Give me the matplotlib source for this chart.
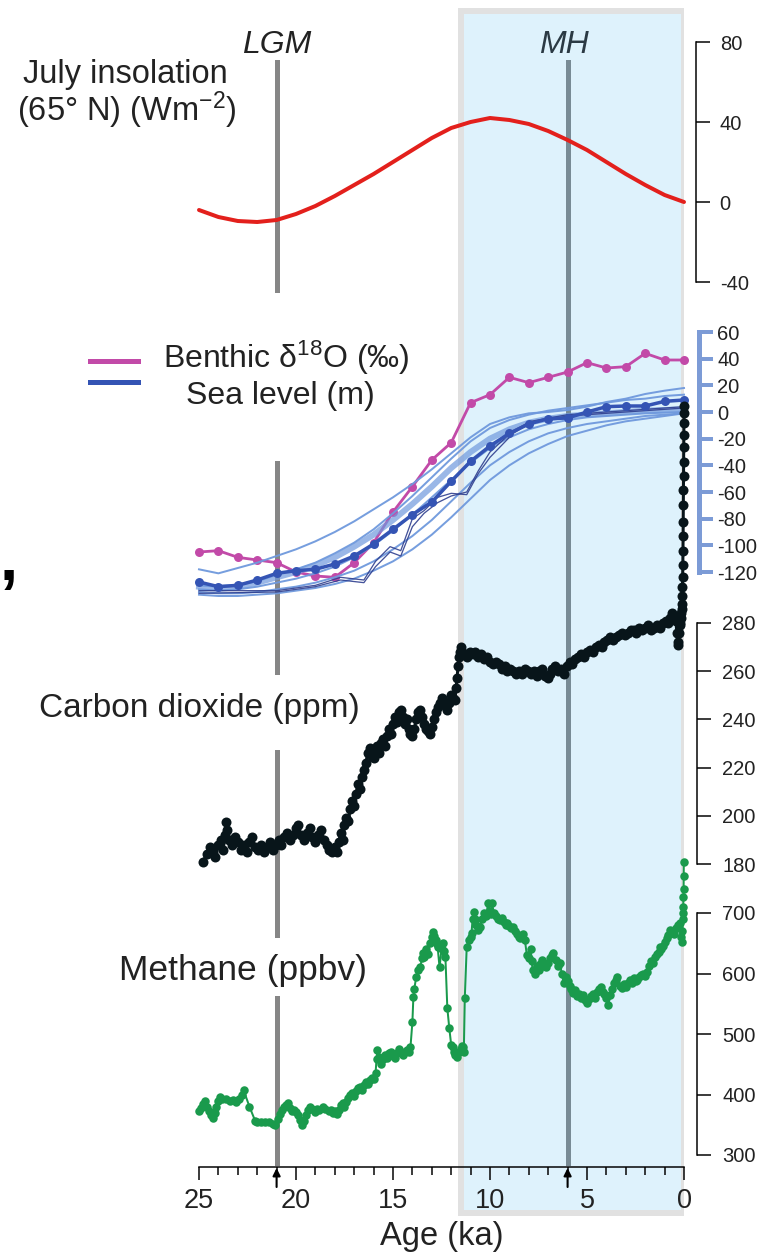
import matplotlib
matplotlib.use("Agg")
import matplotlib.pyplot as plt
from matplotlib.lines import Line2D

plt.rcParams['font.family'] = ['Liberation Sans', 'DejaVu Sans']
plt.rcParams['mathtext.default'] = 'regular'
plt.rcParams['axes.unicode_minus'] = False

# ---------------- data ----------------
LGM_AGE = 21
MH_AGE = 6
BAND = (11.5, 0.0)

INS_AGE = [25, 24, 23, 22, 21, 20, 19, 18, 17, 16, 15, 14, 13, 12, 11, 10, 9, 8, 7, 6, 5, 4, 3, 2, 1, 0]
INS_VAL = [-4, -7.5, -9.5, -10, -9, -6, -2, 3, 8.5, 14, 20, 26, 32, 37, 40, 42, 41, 39, 35.5, 31, 26, 20, 14, 8.5, 3.5, 0]

SL_AGE = [25, 24, 23, 22, 21, 20, 19, 18, 17, 16, 15, 14, 13, 12, 11, 10, 9, 8, 7, 6, 5, 4, 3, 2, 1, 0]
BENTHIC = [-105, -104, -109, -111, -113, -120, -123, -124, -113, -98, -75, -56, -36, -23, 7, 13, 26, 22, 26, 30, 37, 33, 34, 44, 39, 39]
SEA_LEVEL = [-127.5, -131, -130, -126, -121, -119, -118, -114, -108, -99, -88, -77, -67.5, -52, -37, -25.5,
             -16, -9, -5, -4.5, 0, 4, 4.5, 4.5, 8, 9]
MODEL_1 = [-118, -121, -117, -113, -108, -103, -97, -90, -82, -73, -64, -54, -43, -31, -19, -9, -4, -1, 0, 1.5, 4, 7.5, 10, 13.5, 16, 18]
MODEL_2 = [-130, -131, -130, -127, -122, -118, -113, -106, -98, -88, -76, -63, -49, -35, -22, -12, -6, -2, 1, 3, 5, 7, 9, 10, 12, 13]
MODEL_3 = [-131, -132, -131, -128, -124, -120, -115, -109, -101, -92, -81, -69, -56, -42, -30, -20, -13, -8, -5, -3, -2, -1, 0, 1, 1.5, 2]
MODEL_4 = [-133, -134, -133, -131, -128, -125, -121, -116, -109, -100, -89, -77, -64, -51, -38, -27, -19, -13, -9, -6, -4, -3, -2, -1, -0.5, 0]
MODEL_5 = [-135, -136, -136, -135, -133, -131, -128, -124, -119, -112, -103, -93, -81, -67, -53, -40, -30, -22, -16, -12, -9, -7, -5, -3, -2, -1]
MODEL_6 = [-137, -138, -138, -137, -136, -134, -132, -129, -125, -119, -112, -103, -92, -79, -65, -51, -40, -31, -24, -18, -14, -10, -7, -5, -3, -1]

RSL_AGE = [25, 21, 19, 17.7, 16.5, 15.9, 15.15, 14.6, 14.0, 13.4, 12.7, 12.0, 11.2, 10.6, 10.0, 8.8, 7.9, 6, 4, 2, 0]
RSL_1 = [-134, -134, -130, -124, -126, -112, -101, -104, -80, -74, -64, -61, -62, -46, -34, -16, -8, -3, -1, 1, 3]
RSL_2 = [-136, -135, -131, -126, -128, -116, -105, -108, -86, -76, -68, -63, -60, -44, -30, -14, -7, -2, 0, 2, 4]

CO2_AGE = [24.8, 24.6, 24.45, 24.3, 24.15, 24.0, 23.85, 23.75, 23.65, 23.6, 23.55, 23.45, 23.3, 23.15, 23.0,
           22.85, 22.7, 22.55, 22.4, 22.25, 22.1, 21.95, 21.8, 21.65, 21.5, 21.35, 21.2, 21.05, 20.9, 20.75,
           20.6, 20.45, 20.3, 20.15, 20.0, 19.9, 19.75, 19.6, 19.45, 19.3, 19.15, 19.0, 18.85, 18.7, 18.55,
           18.4, 18.3, 18.15, 18.0, 17.9, 17.8, 17.7, 17.6, 17.5, 17.4, 17.3, 17.2, 17.1, 17.0, 16.9, 16.8,
           16.7, 16.6, 16.5, 16.4, 16.3, 16.2, 16.1, 16.0, 15.9, 15.8, 15.7, 15.6, 15.5, 15.4, 15.3, 15.2,
           15.1, 15.0, 14.9, 14.8, 14.7, 14.6, 14.5, 14.4, 14.3, 14.2, 14.1, 14.0, 13.9, 13.8, 13.7, 13.6,
           13.5, 13.4, 13.3, 13.2, 13.1, 13.0, 12.9, 12.8, 12.7, 12.6, 12.5, 12.4, 12.3, 12.2, 12.1, 12.0,
           11.9, 11.8, 11.75, 11.7, 11.65, 11.6, 11.55, 11.5, 11.45, 11.35, 11.2, 11.05, 10.9, 10.75, 10.6,
           10.45, 10.3, 10.15, 10.0, 9.85, 9.7, 9.55, 9.4, 9.25, 9.1, 8.95, 8.8, 8.65, 8.5, 8.35, 8.2, 8.05,
           7.9, 7.75, 7.6, 7.45, 7.3, 7.15, 7.0, 6.9, 6.8, 6.65, 6.5, 6.35, 6.2, 6.05, 5.9, 5.75, 5.6, 5.45,
           5.3, 5.15, 5.0, 4.85, 4.7, 4.55, 4.4, 4.25, 4.1, 3.95, 3.8, 3.65, 3.5, 3.35, 3.2, 3.05, 2.9, 2.75,
           2.6, 2.45, 2.3, 2.15, 2.0, 1.85, 1.7, 1.55, 1.4, 1.25, 1.1, 0.95, 0.8, 0.7, 0.6, 0.5, 0.42, 0.37,
           0.33, 0.3, 0.27, 0.23, 0.2, 0.17, 0.14, 0.12, 0.1, 0.09, 0.08, 0.07, 0.06, 0.05, 0.045, 0.04,
           0.035, 0.03, 0.025, 0.02, 0.015, 0.01, 0.006, 0.003, 0.0]
CO2_PPM = [181, 184, 187, 185, 183, 188, 190, 186, 192, 197.5, 194, 190, 188, 191, 189,
           186, 188, 185, 189, 191, 187, 186, 188, 185, 187, 189, 186, 188, 190, 188,
           191, 193, 190, 192, 195, 196, 192, 190, 193, 195, 191, 189, 192, 194, 190,
           188, 186, 185, 187, 185, 189, 193, 190, 196, 199, 198, 203, 206, 204, 209, 213,
           211, 216, 219, 222, 226, 228, 225, 224, 227, 229, 226, 230, 232, 229, 233, 236,
           234, 238, 241, 239, 243, 244, 241, 238, 240, 236, 234, 233, 236, 240, 243, 244,
           241, 238, 236, 235, 234, 237, 240, 243, 245, 247, 249, 248, 246, 244, 247, 250,
           249, 248, 253, 257, 262, 266, 268, 270, 268, 267, 266, 268, 267, 268, 266,
           267, 265, 266, 264, 263, 264, 263, 261, 262, 260, 261, 260, 259, 260, 259, 261, 260,
           259, 260, 258, 260, 261, 258, 257, 259, 261, 262, 260, 261, 259, 262, 264, 263, 265, 266,
           267, 266, 268, 269, 268, 270, 271, 270, 272, 273, 274, 273, 274, 275, 276, 275, 276, 277,
           277, 276, 278, 277, 278, 279, 277, 278, 279, 278, 280, 281, 280, 282, 284, 283, 281, 276,
           272, 271, 276, 279, 280, 282, 284, 286, 288, 291, 295, 299, 304, 310, 316, 322,
           329, 335, 341, 347, 353, 358, 363, 367, 370]

CH4_AGE = [25.0, 24.9, 24.8, 24.7, 24.6, 24.5, 24.4, 24.3, 24.2, 24.1, 24.0, 23.9, 23.8, 23.6, 23.4, 23.25,
           23.1, 22.95, 22.8, 22.7, 22.4, 22.1, 22.0, 21.8, 21.6, 21.4, 21.2, 21.1, 20.95, 20.8, 20.7, 20.6,
           20.5, 20.4, 20.3, 20.2, 20.1, 20.0, 19.9, 19.8, 19.7, 19.6, 19.5, 19.4, 19.3, 19.2, 19.0, 18.9,
           18.8, 18.6, 18.5, 18.3, 18.2, 18.1, 18.0, 17.9, 17.8, 17.7, 17.6, 17.5, 17.4, 17.3, 17.2, 17.1,
           17.0, 16.9, 16.8, 16.7, 16.6, 16.5, 16.4, 16.3, 16.2, 16.1, 16.0, 15.9, 15.85, 15.8, 15.7, 15.6,
           15.5, 15.4, 15.3, 15.2, 15.1, 15.0, 14.9, 14.8, 14.7, 14.6, 14.5, 14.4, 14.3, 14.2, 14.1, 14.0,
           13.95, 13.9, 13.8, 13.7, 13.6, 13.5, 13.45, 13.4, 13.3, 13.2, 13.1, 13.0, 12.95, 12.9, 12.8,
           12.75, 12.7, 12.6, 12.5, 12.4, 12.35, 12.3, 12.2, 12.1, 12.0, 11.9, 11.85, 11.8, 11.7, 11.6, 11.5,
           11.45, 11.4, 11.35, 11.3, 11.2, 11.1, 11.0, 10.95, 10.9, 10.8, 10.75, 10.7, 10.6, 10.5, 10.4,
           10.3, 10.2, 10.1, 10.0, 9.95, 9.9, 9.8, 9.7, 9.6, 9.5, 9.4, 9.3, 9.2, 9.1, 9.0, 8.9, 8.8, 8.7,
           8.6, 8.5, 8.45, 8.4, 8.3, 8.2, 8.1, 8.0, 7.9, 7.85, 7.8, 7.7, 7.6, 7.5, 7.4, 7.3, 7.2, 7.1, 7.0,
           6.9, 6.8, 6.75, 6.6, 6.5, 6.4, 6.3, 6.2, 6.1, 6.0, 5.9, 5.8, 5.7, 5.6, 5.5, 5.4, 5.3, 5.2, 5.1,
           5.0, 4.9, 4.8, 4.7, 4.6, 4.5, 4.4, 4.3, 4.2, 4.1, 4.0, 3.9, 3.8, 3.7, 3.6, 3.5, 3.45, 3.3, 3.2,
           3.1, 3.0, 2.9, 2.8, 2.7, 2.6, 2.5, 2.4, 2.3, 2.2, 2.1, 2.0, 1.9, 1.8, 1.7, 1.6, 1.5, 1.4, 1.3,
           1.25, 1.2, 1.1, 1.0, 0.9, 0.8, 0.7, 0.6, 0.5, 0.4, 0.3, 0.2, 0.15, 0.1, 0.08, 0.06, 0.05, 0.04,
           0.03, 0.02, 0.015, 0.01]
CH4_PPB = [372, 378, 385, 389, 380, 372, 366, 361, 370, 380, 390, 396, 393, 392, 390, 391,
           388, 392, 400, 407, 380, 356, 354, 355, 354, 355, 352, 350, 360, 368, 374, 380,
           383, 386, 378, 372, 375, 371, 366, 358, 350, 356, 366, 374, 379, 376, 371, 376,
           374, 379, 376, 372, 375, 369, 372, 368, 375, 382, 386, 380, 388, 395, 400, 402,
           398, 406, 410, 412, 408, 415, 420, 418, 424, 428, 425, 435, 458, 474, 462, 450,
           458, 465, 460, 468, 470, 463, 460, 468, 476, 470, 466, 470, 474, 470, 478, 520,
           561, 575, 595, 605, 611, 625, 634, 628, 640, 632, 650, 660, 669, 662, 655,
           648, 644, 610, 640, 650, 638, 628, 543, 510, 482, 479, 470, 465, 462, 470, 475,
           480, 479, 470, 559, 644, 655, 660, 667, 690, 701, 690, 680, 672, 677, 690,
           700, 695, 716, 704, 698, 716, 700, 695, 690, 688, 692, 685, 680, 684, 678, 675, 677, 670,
           665, 660, 659, 662, 665, 655, 630, 625, 640, 620, 605, 600, 612, 605, 615, 622, 612, 610, 618,
           625, 630, 634, 622, 612, 617, 600, 584, 595, 588, 580, 575, 568, 572, 562, 566, 560, 565, 556,
           551, 558, 562, 566, 560, 570, 574, 578, 570, 566, 560, 548, 565, 575, 585, 590, 594, 580, 576,
           582, 578, 585, 590, 584, 592, 588, 589, 594, 598, 600, 596, 603, 612, 620, 618, 628, 632, 636,
           644, 640, 645, 652, 658, 664, 672, 668, 665, 676, 680, 683, 660, 652, 670, 690, 700, 710,
           726, 740, 761, 784]

INS_TICKS = [-40, 0, 40, 80]
SL_TICKS = [-120, -100, -80, -60, -40, -20, 0, 20, 40, 60]
CO2_TICKS = [180, 200, 220, 240, 260, 280]
CH4_TICKS = [300, 400, 500, 600, 700]
AGE_TICKS = [25, 20, 15, 10, 5, 0]
AGE_LABELS = ['25', '20', '15', '10', '5', '0']

# ---------------- layout helpers ----------------
W, H = 759, 1258
X0, X1 = 199, 684
PT = 0.72  # points per pixel at 100 dpi
TXT = '#222222'

fig = plt.figure(figsize=(W / 100, H / 100), dpi=100)


def fx(p):
    return p / W


def fy(p):
    return 1 - p / H


# background axes: shaded Holocene band and the LGM / MH markers
axb = fig.add_axes([fx(X0), 0, fx(X1) - fx(X0), 1])
axb.set_xlim(25, 0)
axb.set_ylim(0, 1)
axb.axis('off')
axb.axvspan(BAND[0], BAND[1], ymin=fy(1213), ymax=fy(11), facecolor='#def2fc',
            edgecolor='#e1e1e1', lw=6 * PT, zorder=0)
for top, bot in [(62, 290), (463, 672), (752, 935), (998, 1163)]:
    axb.axvline(LGM_AGE, ymin=fy(bot), ymax=fy(top), color='#868686', lw=5 * PT, zorder=1)
axb.axvline(MH_AGE, ymin=fy(1163), ymax=fy(62), color='#788b95', lw=5 * PT, zorder=1)


def panel(top, bot, ylim, ticks, out_px, color='black', lw=1.5 * PT, tick_w=1.5 * PT, pad=7):
    ax = fig.add_axes([fx(X0), fy(bot), fx(X1) - fx(X0), fy(top) - fy(bot)])
    ax.set_xlim(25, 0)
    ax.set_ylim(*ylim)
    ax.patch.set_visible(False)
    for s in ['left', 'top', 'bottom']:
        ax.spines[s].set_visible(False)
    ax.xaxis.set_visible(False)
    ax.yaxis.tick_right()
    ax.spines['right'].set_position(('outward', out_px * PT))
    ax.spines['right'].set_color(color)
    ax.spines['right'].set_linewidth(lw)
    ax.set_yticks(ticks)
    ax.tick_params(axis='y', direction='out', length=14 * PT, width=tick_w, color=color,
                   labelsize=14.5, labelcolor=TXT, pad=pad)
    return ax


# --- insolation ---
ax1 = panel(42, 282, (-40, 80), INS_TICKS, 12)
ax1.plot(INS_AGE, INS_VAL, color='#e3201c', lw=4 * PT, solid_capstyle='round', clip_on=False)

# --- sea level & benthic ---
SLC = '#7c9bd6'
ax2 = panel(332, 572, (-120, 60), SL_TICKS, 15, color=SLC, lw=5 * PT, tick_w=4 * PT, pad=3)
ax2.plot(SL_AGE, BENTHIC, '-o', color='#c24aa8', lw=2.8 * PT, ms=9 * PT, mew=0, clip_on=False, zorder=2)
for m, w, a in [(MODEL_1, 2, 0.95), (MODEL_2, 2, 0.95), (MODEL_3, 6, 0.7), (MODEL_4, 2, 0.95),
                (MODEL_5, 2, 0.95), (MODEL_6, 2, 0.95)]:
    ax2.plot(SL_AGE, m, color='#6f99dd', lw=w * PT, alpha=a, clip_on=False, zorder=3)
for r in [RSL_1, RSL_2]:
    ax2.plot(RSL_AGE, r, color='#2f3f8f', lw=1.3 * PT, alpha=0.9, clip_on=False, zorder=3)
ax2.plot(SL_AGE, SEA_LEVEL, '-o', color='#3454b4', lw=3.5 * PT, ms=9 * PT, mew=0, clip_on=False, zorder=4)

leg = ax2.legend(handles=[Line2D([], [], color='#c24aa8', lw=5 * PT),
                          Line2D([], [], color='#3454b4', lw=5 * PT)],
                 labels=['', ''], loc='upper left', bbox_to_anchor=(fx(90), fy(358)),
                 bbox_transform=fig.transFigure, frameon=False, borderpad=0, borderaxespad=0,
                 handlelength=5.8, handletextpad=0, labelspacing=1.6, fontsize=6)

# --- CO2 ---
ax3 = panel(623, 864, (180, 280), CO2_TICKS, 13, pad=8)
ax3.plot(CO2_AGE, CO2_PPM, '-o', color='#08151a', lw=3 * PT, ms=10 * PT, mew=0, clip_on=False, zorder=5)

# --- CH4 ---
ax4 = panel(913, 1155, (300, 700), CH4_TICKS, 13, pad=8)
ax4.plot(CH4_AGE, CH4_PPB, '-o', color='#1a9a4c', lw=2 * PT, ms=8.5 * PT, mew=0, clip_on=False, zorder=5)

# --- bottom age axis ---
axx = fig.add_axes([fx(X0), fy(1167), fx(X1) - fx(X0), 0.001])
axx.set_xlim(25, 0)
axx.patch.set_visible(False)
for s in ['left', 'top', 'right']:
    axx.spines[s].set_visible(False)
axx.spines['bottom'].set_linewidth(1.5 * PT)
axx.yaxis.set_visible(False)
axx.set_xticks(AGE_TICKS)
axx.set_xticklabels(AGE_LABELS)
axx.set_xticks(list(range(25, -1, -1)), minor=True)
axx.tick_params(axis='x', which='major', direction='out', length=13 * PT, width=1.5 * PT,
                labelsize=19.5, labelcolor=TXT, pad=6)
axx.tick_params(axis='x', which='minor', direction='out', length=8 * PT, width=1.5 * PT)
axx.set_xlabel('Age (ka)', fontsize=23.5, color=TXT, labelpad=5)
for a in (LGM_AGE, MH_AGE):
    axx.annotate('', xy=(a, fy(1168)), xycoords=('data', 'figure fraction'),
                 xytext=(a, fy(1187)), textcoords=('data', 'figure fraction'),
                 arrowprops=dict(arrowstyle='-|>', color='black', lw=1.5, mutation_scale=11,
                                 shrinkA=0, shrinkB=0))

# --- text labels ---
fig.text(fx(277), fy(53), 'LGM', ha='center', va='baseline', fontsize=23, style='italic', color=TXT)
fig.text(fx(564), fy(53), 'MH', ha='center', va='baseline', fontsize=23, style='italic', color='#2b3a44')
fig.text(fx(125), fy(83), 'July insolation', ha='center', va='baseline', fontsize=23.5, color=TXT)
fig.text(fx(127), fy(121), '(65° N) (Wm$^{-2}$)', ha='center', va='baseline', fontsize=23.5, color=TXT)
fig.text(fx(286), fy(368), 'Benthic δ$^{18}$O (‰)', ha='center', va='baseline', fontsize=23, color=TXT)
fig.text(fx(280), fy(404), 'Sea level (m)', ha='center', va='baseline', fontsize=23, color=TXT)
fig.text(fx(199), fy(717), 'Carbon dioxide (ppm)', ha='center', va='baseline', fontsize=24, color=TXT)
fig.text(fx(243), fy(980), 'Methane (ppbv)', ha='center', va='baseline', fontsize=25.5, color=TXT)
fig.text(fx(0), fy(580), ',', ha='left', va='baseline', fontsize=47, fontweight='bold', color='black')

fig.savefig('out.png', dpi=100)
